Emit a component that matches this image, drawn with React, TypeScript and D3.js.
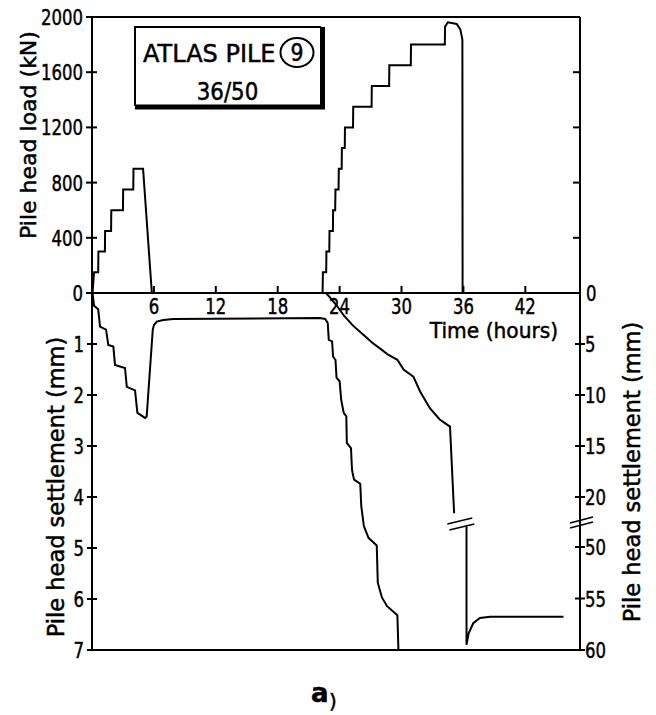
import React from "react";
import * as d3 from "d3";

// load (kN) against time (hours)
const loadCycle1: [number, number][] = [
  [0.05, 0], [0.2, 150], [0.6, 150], [0.62, 300], [1.25, 300], [1.27, 450],
  [1.85, 450], [1.87, 600], [3.0, 600], [3.02, 750], [4.0, 750], [4.02, 900],
  [4.95, 900], [5.8, 0],
];
const loadCycle2: [number, number][] = [
  [22.35, 0], [22.38, 150], [22.7, 150], [22.72, 300], [23.0, 300], [23.02, 450],
  [23.35, 450], [23.37, 600], [23.57, 600], [23.6, 750], [23.9, 750], [23.92, 900],
  [24.2, 900], [24.22, 1050], [24.5, 1050], [24.52, 1200], [25.3, 1200], [25.32, 1350],
  [27.1, 1350], [27.12, 1500], [28.8, 1500], [28.82, 1650], [30.9, 1650], [30.92, 1800],
  [34.2, 1800], [34.22, 1930], [34.5, 1962], [35.35, 1950], [35.7, 1910],
  [35.9, 1837], [35.92, 0],
];

// settlement (mm) on the left scale, both load cycles
const settleLeft: [number, number][] = [
  [0.05, 0], [0.2, 0.25], [0.6, 0.32], [0.78, 0.66], [1.36, 0.72], [1.58, 1.02],
  [2.07, 1.05], [2.23, 1.41], [3.2, 1.47], [3.37, 1.84], [4.17, 1.91], [4.4, 2.35],
  [5.14, 2.45], [5.3, 2.42], [5.89, 0.72], [6.0, 0.63], [6.28, 0.56], [6.9, 0.53],
  [7.9, 0.51], [22.1, 0.49], [22.6, 0.51], [22.85, 0.59], [22.95, 0.92], [23.27, 0.95],
  [23.37, 1.25], [23.6, 1.31], [23.7, 1.66], [24.0, 1.73], [24.15, 2.09], [24.4, 2.35],
  [24.65, 2.42], [24.7, 2.94], [25.1, 3.04], [25.2, 3.46], [25.25, 3.52], [25.4, 3.66],
  [26.0, 3.74], [26.1, 4.18], [26.35, 4.57], [26.8, 4.8], [27.6, 4.95], [27.7, 5.68],
  [28.1, 5.97], [28.6, 6.14], [29.6, 6.32], [29.7, 7.0],
];

// settlement (mm) on the right scale, second cycle, before and after the break
const settleRightUpper: [number, number][] = [
  [22.7, 0], [23.7, 1.2], [24.4, 2.2], [25.3, 3.2], [26.3, 4.1], [27.2, 4.9],
  [28.0, 5.5], [28.7, 6.05], [29.6, 6.55], [30.2, 7.5], [31.15, 8.2], [31.8, 9.65],
  [32.75, 11.3], [33.7, 12.4], [34.7, 13.1], [35.1, 21.6],
];
const settleRightLower: [number, number][] = [
  [36.3, 48.0], [36.3, 59.5], [36.5, 58.4], [36.95, 57.4], [37.6, 56.9],
  [38.6, 56.77], [45.7, 56.77],
];

const loadTicks = [0, 400, 800, 1200, 1600, 2000];
const timeTicks = [6, 12, 18, 24, 30, 36, 42];
const settleLeftTicks = [1, 2, 3, 4, 5, 6, 7];
const rightTopTicks = [5, 10, 15, 20];
const rightBotTicks = [50, 55, 60];

const FONT = "DejaVu Sans";

function Txt({ x, y, sx = 1, anchor = "start", size = 22, weight = "normal", children }: any) {
  return (
    <text
      transform={`translate(${x},${y}) scale(${sx},1)`}
      textAnchor={anchor}
      fontSize={size}
      fontFamily={FONT}
      fontWeight={weight}
      fill="#000"
      stroke="#000"
      strokeWidth={0.5}
    >
      {children}
    </text>
  );
}

export default function App() {
  const x = d3.scaleLinear().domain([0, 47.3]).range([92, 580]);
  const yLoad = d3.scaleLinear().domain([0, 2000]).range([293, 17]);
  const yLeft = d3.scaleLinear().domain([0, 7]).range([293, 650]);
  const yRTop = d3.scaleLinear().domain([0, 20]).range([293, 497]);
  const yRBot = d3.scaleLinear().domain([50, 60]).range([547, 650]);

  const [x0, x1] = x.range();
  const yTop = yLoad(2000);
  const yZero = yLoad(0);
  const yBottom = yLeft(7);

  const lineLoad = d3.line<[number, number]>().x((d) => x(d[0])).y((d) => yLoad(d[1]));
  const lineLeft = d3.line<[number, number]>().x((d) => x(d[0])).y((d) => yLeft(d[1]));
  const lineRTop = d3.line<[number, number]>().x((d) => x(d[0])).y((d) => yRTop(d[1]));
  const lineRBot = d3.line<[number, number]>().x((d) => x(d[0])).y((d) => yRBot(d[1]));

  const breakY = (yRTop(20) + yRBot(50)) / 2;
  const curveBreakX = x(35.7);

  const stroke = { stroke: "#000", strokeWidth: 2, fill: "none" };
  const title = { fontFamily: FONT, fill: "#000", stroke: "#000", strokeWidth: 0.5 };

  return (
    <svg
      width={656}
      height={715}
      style={{ position: "absolute", left: 0, top: 0, background: "#fff" }}
    >
      {/* frame */}
      <line x1={x0} x2={x1} y1={yTop} y2={yTop} {...stroke} />
      <line x1={x0} x2={x1} y1={yZero} y2={yZero} {...stroke} />
      <line x1={x0 - 4} x2={x1} y1={yBottom} y2={yBottom} {...stroke} />
      <line x1={x0} x2={x0} y1={yTop} y2={yBottom} {...stroke} />
      <line x1={x1} x2={x1} y1={yTop} y2={yBottom} {...stroke} />

      {/* load axis */}
      {loadTicks.map((t) => (
        <g key={"l" + t}>
          <line x1={x0 - 6} x2={x0 + 5} y1={yLoad(t)} y2={yLoad(t)} {...stroke} />
          <Txt x={x0 - 9} y={yLoad(t) + 8} anchor="end" sx={0.75}>{t}</Txt>
        </g>
      ))}
      {loadTicks.slice(1, -1).map((t) => (
        <line key={"lr" + t} x1={x1 - 7} x2={x1} y1={yLoad(t)} y2={yLoad(t)} {...stroke} />
      ))}
      <Txt x={x1 + 6} y={yZero + 8} sx={0.75}>0</Txt>

      {/* time axis */}
      {timeTicks.map((t) => (
        <g key={"t" + t}>
          <line x1={x(t)} x2={x(t)} y1={yZero - 7} y2={yZero} {...stroke} />
          <Txt x={x(t)} y={yZero + 21} anchor="middle" sx={0.75}>{t}</Txt>
        </g>
      ))}
      <Txt x={494} y={338} anchor="middle" sx={0.94} size={21.5}>Time (hours)</Txt>

      {/* left settlement axis */}
      {settleLeftTicks.map((t) => (
        <g key={"s" + t}>
          <line x1={x0 - 5} x2={x0 + 5} y1={yLeft(t)} y2={yLeft(t)} {...stroke} />
          <Txt x={x0 - 8} y={yLeft(t) + 8} anchor="end" sx={0.75}>{t}</Txt>
        </g>
      ))}

      {/* right settlement axis */}
      {rightTopTicks.map((t) => (
        <g key={"rt" + t}>
          <line x1={x1 - 5} x2={x1 + 5} y1={yRTop(t)} y2={yRTop(t)} {...stroke} />
          <Txt x={x1 + 5} y={yRTop(t) + 8} sx={0.75}>{t}</Txt>
        </g>
      ))}
      {rightBotTicks.map((t) => (
        <g key={"rb" + t}>
          <line x1={x1 - 5} x2={x1 + 5} y1={yRBot(t)} y2={yRBot(t)} {...stroke} />
          <Txt x={x1 + 5} y={yRBot(t) + 8} sx={0.75}>{t}</Txt>
        </g>
      ))}
      {/* axis break marks */}
      <line x1={x1 - 10} x2={x1 + 13} y1={breakY + 1} y2={breakY - 5} {...stroke} strokeWidth={1.6} />
      <line x1={x1 - 10} x2={x1 + 13} y1={breakY + 6} y2={breakY} {...stroke} strokeWidth={1.6} />

      {/* axis titles */}
      <text transform="translate(36,135) rotate(-90)" textAnchor="middle" fontSize={22} {...title}>
        Pile head load (kN)
      </text>
      <text transform="translate(64,487) rotate(-90)" textAnchor="middle" fontSize={22.5} {...title}>
        Pile head settlement (mm)
      </text>
      <text transform="translate(640,472) rotate(-90)" textAnchor="middle" fontSize={22.5} {...title}>
        Pile head settlement (mm)
      </text>

      {/* curves */}
      <path d={lineLoad(loadCycle1) || ""} {...stroke} />
      <path d={lineLoad(loadCycle2) || ""} {...stroke} />
      <path d={lineLeft(settleLeft) || ""} {...stroke} />
      <path d={lineRTop(settleRightUpper) || ""} {...stroke} />
      <path d={lineRBot(settleRightLower) || ""} {...stroke} />
      {/* curve break marks */}
      <line x1={curveBreakX - 13} x2={curveBreakX + 12} y1={breakY + 2} y2={breakY - 4} {...stroke} strokeWidth={1.6} />
      <line x1={curveBreakX - 11} x2={curveBreakX + 14} y1={breakY + 8} y2={breakY + 2} {...stroke} strokeWidth={1.6} />

      {/* title box */}
      <path d="M135,106 L135,27 L321,27" {...stroke} />
      <path d="M322.5,27 L322.5,107 L135,107" stroke="#000" strokeWidth={5} fill="none" />
      <Txt x={143} y={62} size={24}>ATLAS PILE</Txt>
      <ellipse cx={297} cy={52.5} rx={16.5} ry={14.5} {...stroke} />
      <Txt x={297} y={61} size={24} anchor="middle" sx={0.85}>9</Txt>
      <Txt x={227.5} y={100} size={24} anchor="middle" sx={0.89}>36/50</Txt>

      {/* panel label */}
      <Txt x={311} y={702} size={26} weight="bold">a</Txt>
      <Txt x={329} y={708} size={20}>)</Txt>
    </svg>
  );
}
